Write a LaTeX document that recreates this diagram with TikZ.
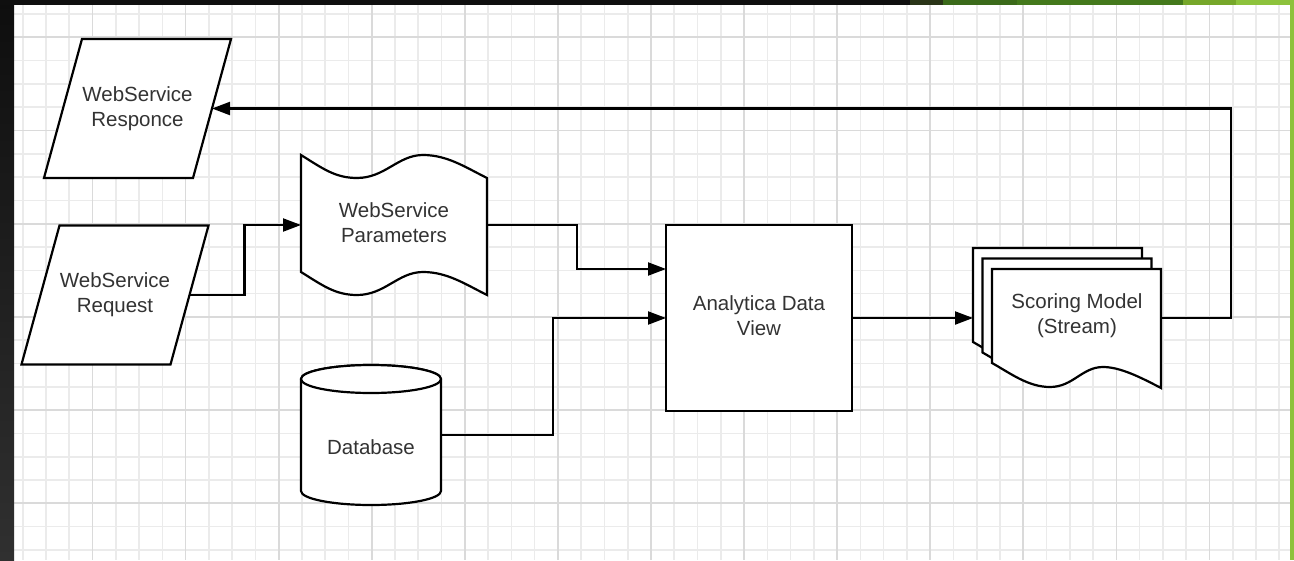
\documentclass[tikz,border=0pt]{standalone}
\usepackage{fontspec}
\setmainfont{Liberation Sans}
\usetikzlibrary{arrows.meta,shapes.geometric}
\definecolor{txtc}{HTML}{333333}
\definecolor{gminor}{HTML}{EBEBEB}
\definecolor{gmajor}{HTML}{DADADA}
\definecolor{gA}{HTML}{2A3518}
\definecolor{gB}{HTML}{3B6A1A}
\definecolor{gC}{HTML}{44791C}
\definecolor{gD}{HTML}{76A72A}
\definecolor{gE}{HTML}{8DC23C}
\newcommand{\paratext}[1]{\vbox to 139pt{\hsize=111pt\vss\centering\fontsize{20.5}{25}\selectfont #1\par\vss}}
\begin{document}
\begin{tikzpicture}[x=1pt,y=-1pt,
  lbl/.style={text=txtc, font=\fontsize{20.5}{25}\selectfont, align=center, inner sep=0pt},
  hold/.style={inner sep=0pt, outer sep=0pt},
  shp/.style={draw=black, line width=2.2pt, fill=white, line join=miter},
  para/.style={trapezium, trapezium left angle=74.7, trapezium right angle=105.3,
    draw=black, line width=2.2pt, fill=white, inner sep=0pt, outer sep=0pt, text=txtc},
  flow/.style={draw=black, line width=2.2pt, -{Triangle[length=18pt,width=13pt]}}
]
\useasboundingbox (0,0) rectangle (1294,560);
% background
\fill[white] (0,0) rectangle (1294,560);
\foreach \k in {0,...,54} \draw[gminor, line width=1.6pt] ({22.7+23.27*\k},5) -- ({22.7+23.27*\k},560);
\foreach \k in {0,...,23} \draw[gminor, line width=1.6pt] (14,{14+23.3*\k}) -- (1290,{14+23.3*\k});
\foreach \k in {3,7,...,51} \draw[gmajor, line width=1.8pt] ({22.7+23.27*\k},5) -- ({22.7+23.27*\k},560);
\foreach \k in {1,5,...,21} \draw[gmajor, line width=1.8pt] (14,{14+23.3*\k}) -- (1290,{14+23.3*\k});
% frame
\shade[top color={rgb,255:red,14;green,14;blue,14}, bottom color={rgb,255:red,48;green,48;blue,48}] (0,0) rectangle (14,560);
\fill[black!94] (0,0) rectangle (1294,5);
\fill[gA] (910,0) rectangle (943,5);
\fill[gB] (943,0) rectangle (1017,5);
\fill[gC] (1017,0) rectangle (1183,5);
\fill[gD] (1183,0) rectangle (1236,5);
\fill[gE] (1236,0) rectangle (1294,5);
\fill[gE] (1290,0) rectangle (1294,560);

% Response and Request
\node[para] (resp) at (137.5,108.5) {\paratext{WebService\\Responce}};
\node[para] (req) at (115,295) {\paratext{WebService\\Request}};

% Parameters (wavy)
\node[hold, minimum width=186pt, minimum height=140pt] (par) at (394,225) {};
\draw[shp] (301,155) .. controls (322,168) and (335,178) .. (357,178)
  .. controls (385,178) and (398,155) .. (423,155)
  .. controls (447,155) and (465,167) .. (487,178) -- (487,295)
  .. controls (465,284) and (447,272) .. (423,272)
  .. controls (398,272) and (385,295) .. (357,295)
  .. controls (335,295) and (322,285) .. (301,272) -- cycle;
\node[lbl] (parl) at (394,223) {WebService\\Parameters};

% Database
\node[hold, minimum width=140pt, minimum height=140pt] (db) at (371,435) {};
\draw[shp] (301,379) -- (301,491) arc[start angle=180, end angle=360, x radius=70pt, y radius=14pt] -- (441,379) arc[start angle=0, end angle=180, x radius=70pt, y radius=14pt] -- cycle;
\draw[shp] (371,379) ellipse [x radius=70pt, y radius=14pt];
\node[lbl] (dbl) at (371,447) {Database};

% Analytica
\node[shp, hold, minimum width=186pt, minimum height=186pt] (ana) at (759,318) {};
\node[lbl] (anal) at (759,315.5) {Analytica Data\\View};

% Scoring model (stacked documents)
\node[hold, minimum width=188pt, minimum height=140pt] (score) at (1067,318) {};
\foreach \d in {19,9.5,0} {
  \draw[shp, shift={(-\d,-1.105*\d)}] (992,269) -- (1161,269) -- (1161,388)
    .. controls (1140,377) and (1120,367) .. (1103,367)
    .. controls (1082,367) and (1073,387) .. (1050,387)
    .. controls (1028,387) and (1010,373) .. (992,363) -- cycle;
}
\node[lbl] (scorel) at (1077,315.5) {Scoring Model\\(Stream)};

% connectors
\draw[flow] (req.east) -- ++(55,0) |- (par.west);
\draw[flow] (par.east) -- ++(90,0) |- ([yshift=49pt]ana.west);
\draw[flow] (db.east) -- ++(112,0) |- (ana.west);
\draw[flow] (ana.east) -- (score.west);
\draw[flow] (score.east) -- ++(70,0) |- (resp.east);
\end{tikzpicture}
\end{document}
